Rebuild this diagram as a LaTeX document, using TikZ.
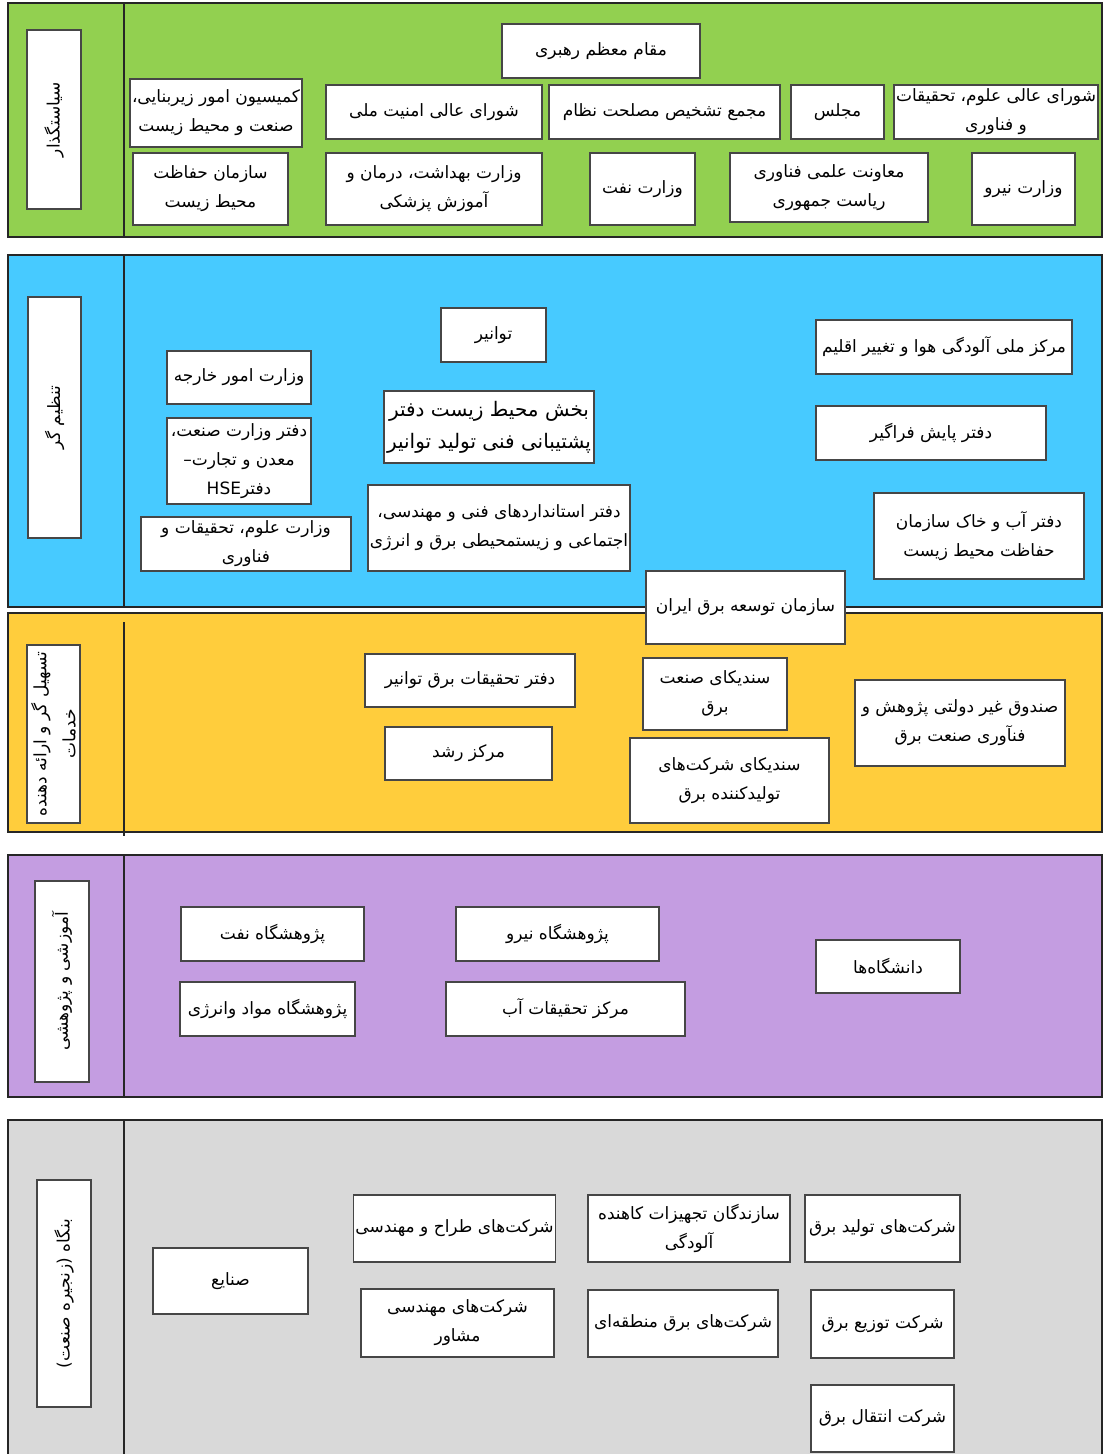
\documentclass[tikz,border=0pt]{standalone}
\usepackage{fontspec}
\usepackage{xcolor}
\usepackage{tikz}
\newfontfamily\arabicfont[Script=Arabic]{DejaVu Sans}
\TeXXeTstate=1
\definecolor{figline}{RGB}{38,38,38}
\definecolor{boxline}{RGB}{70,70,70}
\definecolor{bandgreen}{RGB}{146,208,80}
\definecolor{bandblue}{RGB}{71,202,255}
\definecolor{bandyellow}{RGB}{255,205,60}
\definecolor{bandpurple}{RGB}{196,157,225}
\definecolor{bandgrey}{RGB}{217,217,217}
\newcommand{\fa}[1]{\beginR#1\endR}
\tikzset{
  bnd/.style ={draw=figline, line width=0.7pt},
  sep/.style ={draw=figline, line width=0.6pt},
  bx/.style 2 args={draw=boxline, fill=white, line width=0.6pt, minimum width=#1, minimum height=#2,
    inner sep=1pt, align=center, font=\arabicfont\fontsize{8.5}{14.5}\selectfont},
  bxl/.style 2 args={bx={#1}{#2}, font=\arabicfont\fontsize{10}{16}\selectfont},
  lbl/.style 2 args={bx={#1}{#2}, rotate=90},
}
\begin{document}
\begin{tikzpicture}[x=0.5pt,y=-0.5pt]
  \useasboundingbox (0,0) rectangle (1103,1454);
  \clip (0,0) rectangle (1103,1454);
  \fill[white] (0,0) rectangle (1103,1454);
  \filldraw[bnd,fill=bandgreen] (8,3) rectangle (1102,237);
  \filldraw[bnd,fill=bandblue] (8,255) rectangle (1102,607);
  \filldraw[bnd,fill=bandyellow] (8,613) rectangle (1102,832);
  \filldraw[bnd,fill=bandpurple] (8,855) rectangle (1102,1097);
  \filldraw[bnd,fill=bandgrey] (8,1120) rectangle (1102,1470);
  \draw[sep] (124,3) -- (124,237);
  \draw[sep] (124,255) -- (124,607);
  \draw[sep] (124,622) -- (124,836);
  \draw[sep] (124,855) -- (124,1097);
  \draw[sep] (124,1120) -- (124,1470);
  \node[lbl={89.5pt}{27pt}] (siasat) at (54,119.5) {\fa{سیاستگذار}};
  \node[bx={99pt}{27pt}] (rahbari) at (601,51) {\fa{مقام معظم رهبری}};
  \node[bx={86pt}{34pt}] (komision) at (216,113) {\fa{کمیسیون امور زیربنایی،}\\\fa{صنعت و محیط زیست}};
  \node[bx={108pt}{27pt}] (amniat) at (434,112) {\fa{شورای عالی امنیت ملی}};
  \node[bx={115.5pt}{27pt}] (majma) at (664.5,112) {\fa{مجمع تشخیص مصلحت نظام}};
  \node[bx={46.5pt}{27pt}] (majles) at (837.5,112) {\fa{مجلس}};
  \node[bx={99pt}{27pt}] (shoraolum) at (996,112) {\fa{شورای عالی علوم، تحقیقات}\\\fa{و فناوری}};
  \node[bx={77.5pt}{36pt}] (hefazat) at (210.5,189) {\fa{سازمان حفاظت}\\\fa{محیط زیست}};
  \node[bx={108pt}{36pt}] (behdasht) at (434,189) {\fa{وزارت بهداشت، درمان و}\\\fa{آموزش پزشکی}};
  \node[bx={52.5pt}{36pt}] (naft) at (642.5,189) {\fa{وزارت نفت}};
  \node[bx={99pt}{34.5pt}] (moavenat) at (829,187.5) {\fa{معاونت علمی  فناوری}\\\fa{ریاست جمهوری}};
  \node[bx={51.5pt}{36pt}] (niroo) at (1023.5,189) {\fa{وزارت نیرو}};
  \node[lbl={120.5pt}{26.5pt}] (tanzim) at (54.5,417.5) {\fa{تنظیم گر}};
  \node[bx={52.5pt}{27pt}] (tavanir) at (493.5,335) {\fa{توانیر}};
  \node[bx={72pt}{26.5pt}] (kharejeh) at (239,377.5) {\fa{وزارت امور خارجه}};
  \node[bx={128pt}{27pt}] (aludegi) at (944,347) {\fa{مرکز ملی آلودگی هوا و تغییر اقلیم}};
  \node[bxl={105pt}{36pt}] (bakhsh) at (489,427) {\fa{بخش محیط زیست دفتر}\\\fa{پشتیبانی فنی تولید توانیر}};
  \node[bx={115pt}{27pt}] (payesh) at (931,433) {\fa{دفتر پایش فراگیر}};
  \node[bx={72pt}{43pt}] (samt) at (239,461) {\fa{دفتر وزارت صنعت،}\\\fa{معدن و تجارت–}\\\fa{دفتر\beginL HSE\endL}};
  \node[bx={128pt}{43pt}] (standard) at (499,528) {\fa{دفتر استانداردهای فنی و مهندسی،}\\\fa{اجتماعی و زیستمحیطی برق و انرژی}};
  \node[bx={105pt}{27pt}] (olum) at (246,544) {\fa{وزارت علوم، تحقیقات و}\\\fa{فناوری}};
  \node[bx={105pt}{43pt}] (abkhak) at (979,536) {\fa{دفتر آب و خاک سازمان}\\\fa{حفاظت محیط زیست}};
  \node[lbl={89pt}{26.5pt}] (tashil) at (53.5,734) {\fa{تسهیل گر و ارائه دهنده}\\\fa{خدمات}};
  \node[bx={105pt}{26.5pt}] (tahghighat) at (470,680.5) {\fa{دفتر تحقیقات برق توانیر}};
  \node[bx={72pt}{36pt}] (sandika) at (715,694) {\fa{سندیکای صنعت}\\\fa{برق}};
  \node[bx={105pt}{43pt}] (sandogh) at (960,723) {\fa{صندوق غیر دولتی پژوهش و}\\\fa{فنآوری صنعت برق}};
  \node[bx={83.5pt}{26.5pt}] (roshd) at (468.5,753.5) {\fa{مرکز رشد}};
  \node[bx={99.5pt}{42.5pt}] (sandikatolid) at (729.5,780.5) {\fa{سندیکای شرکت‌های}\\\fa{تولیدکننده برق}};
  \node[bx={99.5pt}{36.5pt}] (tosee) at (745.5,607.5) {\fa{سازمان توسعه برق ایران}};
  \node[lbl={100.5pt}{27pt}] (amoozeshi) at (62,981.5) {\fa{آموزشی و پژوهشی}};
  \node[bx={91.5pt}{27pt}] (pnaft) at (272.5,934) {\fa{پژوهشگاه نفت}};
  \node[bx={101.5pt}{27pt}] (pniroo) at (557.5,934) {\fa{پژوهشگاه نیرو}};
  \node[bx={72pt}{26.5pt}] (daneshgah) at (888,966.5) {\fa{دانشگاه‌ها}};
  \node[bx={87.5pt}{27pt}] (pmavad) at (267.5,1009) {\fa{پژوهشگاه مواد وانرژی}};
  \node[bx={119.5pt}{27pt}] (abtahghigh) at (565.5,1009) {\fa{مرکز تحقیقات آب}};
  \node[lbl={113.5pt}{27pt}] (bongah) at (64,1293.5) {\fa{بنگاه (زنجیره صنعت)}};
  \node[bx={99.5pt}{33.5pt}] (tarah) at (454.5,1228.5) {\fa{شرکت‌های طراح و مهندسی}};
  \node[bx={101pt}{33.5pt}] (sazandegan) at (689,1228.5) {\fa{سازندگان تجهیزات کاهنده}\\\fa{آلودگی}};
  \node[bx={77.5pt}{33.5pt}] (tolid) at (882.5,1228.5) {\fa{شرکت‌های تولید برق}};
  \node[bx={77.5pt}{33pt}] (sanaye) at (230.5,1281) {\fa{صنایع}};
  \node[bx={96.5pt}{34pt}] (moshaver) at (457.5,1323) {\fa{شرکت‌های مهندسی}\\\fa{مشاور}};
  \node[bx={95pt}{33.5pt}] (mantaghe) at (683,1323.5) {\fa{شرکت‌های برق منطقه‌ای}};
  \node[bx={71.5pt}{34pt}] (tozi) at (882.5,1324) {\fa{شرکت توزیع برق}};
  \node[bx={71.5pt}{33.5pt}] (enteghal) at (882.5,1418.5) {\fa{شرکت انتقال برق}};
\end{tikzpicture}
\end{document}
